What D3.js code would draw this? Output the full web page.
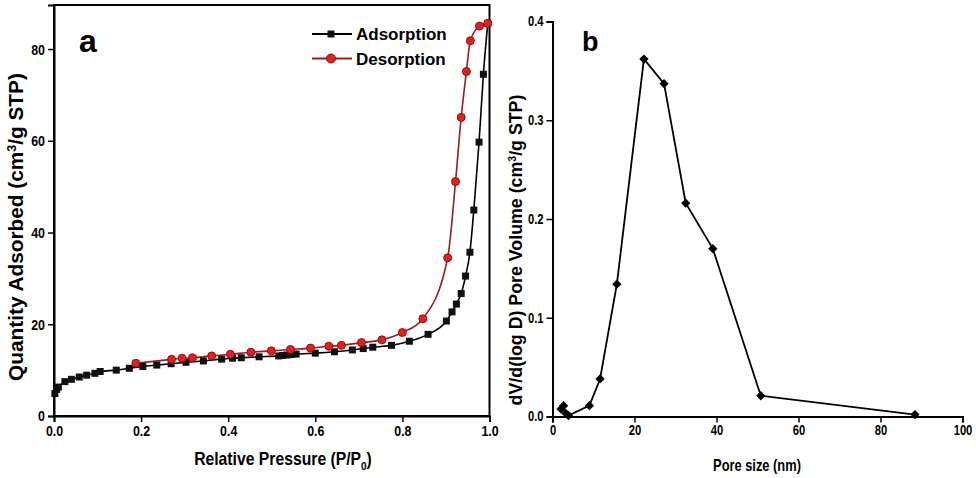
<!DOCTYPE html>
<meta charset="utf-8">
<script src="https://d3js.org/d3.v7.min.js"></script>
<style>
  body { margin: 0; background: #fff; }
  text { font-family: "Liberation Sans", Arial, sans-serif; font-weight: bold; }
</style>
<body>
<div id="chart"></div>
<script>
// panel a : N2 isotherm
var adsP = [0.002, 0.006, 0.010, 0.025, 0.040, 0.058, 0.075, 0.094, 0.106, 0.143, 0.173, 0.204, 0.236, 0.269, 0.303,
            0.343, 0.385, 0.410, 0.430, 0.471, 0.516, 0.525, 0.535, 0.545, 0.556, 0.600, 0.644, 0.685, 0.710, 0.732,
            0.775, 0.816, 0.859, 0.901, 0.914, 0.924, 0.935, 0.945, 0.955, 0.964, 0.976, 0.986, 0.996];
var adsV = [4.9, 5.8, 6.3, 7.5, 8.0, 8.5, 8.9, 9.3, 9.7, 10.0, 10.4, 10.8, 11.1, 11.4, 11.7,
            12.0, 12.4, 12.6, 12.7, 12.9, 13.1, 13.2, 13.3, 13.4, 13.5, 13.7, 14.0, 14.4, 14.7, 15.0,
            15.4, 16.3, 17.8, 20.7, 22.7, 24.4, 26.7, 30.5, 35.7, 44.9, 59.7, 74.5, 85.6];
var desP = [0.188, 0.270, 0.294, 0.318, 0.362, 0.405, 0.452, 0.499, 0.543, 0.589, 0.631, 0.660, 0.706, 0.753,
            0.800, 0.847, 0.904, 0.922, 0.935, 0.947, 0.956, 0.977, 0.996];
var desV = [11.5, 12.35, 12.6, 12.7, 13.1, 13.45, 13.9, 14.2, 14.5, 14.8, 15.2, 15.4, 16.0, 16.6,
            18.2, 21.2, 34.5, 51.1, 65.1, 75.1, 81.8, 85.0, 85.6];
var xTicksA = [0, 0.2, 0.4, 0.6, 0.8, 1.0];
var yTicksA = [0, 20, 40, 60, 80];

// panel b : pore size distribution
var poreSize = [2.1, 2.7, 3.3, 3.9, 9.0, 11.6, 15.7, 22.3, 27.2, 32.5, 39.1, 50.8, 88.4];
var poreVol  = [0.0075, 0.011, 0.003, 0.001, 0.011, 0.038, 0.134, 0.362, 0.337, 0.216, 0.170, 0.021, 0.002];
var xTicksB = [0, 20, 40, 60, 80, 100];
var yTicksB = [0, 0.1, 0.2, 0.3, 0.4];

var svg = d3.select("#chart").append("svg")
    .attr("width", 976).attr("height", 478);

// ---------- panel a ----------
var xa = d3.scaleLinear().domain([0, 1]).range([54, 489.5]);
var ya = d3.scaleLinear().domain([0, 89.6]).range([416, 5]);

var ga = svg.append("g");

ga.append("g")
  .attr("transform", "translate(0,416)")
  .call(d3.axisBottom(xa).tickValues(xTicksA).tickFormat(d3.format(".1f")).tickSizeOuter(0).tickSize(6))
  .call(styleAxis, "15.5px");
ga.append("g")
  .attr("transform", "translate(54,0)")
  .call(d3.axisLeft(ya).tickValues(yTicksA).tickSizeOuter(0).tickSize(6))
  .call(styleAxis, "15.5px");

// frame
ga.append("rect")
  .attr("x", xa(0)).attr("y", ya(89.6))
  .attr("width", xa(1) - xa(0)).attr("height", ya(0) - ya(89.6))
  .attr("fill", "none").attr("stroke", "#000").attr("stroke-width", 2);

var ads = adsP.map(function(p, i) { return {x: p, y: adsV[i]}; });
var des = desP.map(function(p, i) { return {x: p, y: desV[i]}; });

var lineA = d3.line()
  .x(function(d) { return xa(d.x); })
  .y(function(d) { return ya(d.y); })
  .curve(d3.curveMonotoneX);

ga.append("path").datum(ads)
  .attr("fill", "none").attr("stroke", "#000").attr("stroke-width", 1.6)
  .attr("d", lineA);
ga.append("path").datum(des)
  .attr("fill", "none").attr("stroke", "#9b1a24").attr("stroke-width", 1.6)
  .attr("d", lineA);

ga.selectAll(".sq").data(ads).enter().append("rect")
  .attr("x", function(d) { return xa(d.x) - 3.5; })
  .attr("y", function(d) { return ya(d.y) - 3.5; })
  .attr("width", 7).attr("height", 7)
  .attr("fill", "#111");

ga.selectAll(".ci").data(des).enter().append("circle")
  .attr("cx", function(d) { return xa(d.x); })
  .attr("cy", function(d) { return ya(d.y); })
  .attr("r", 4)
  .attr("fill", "#e3201b").attr("stroke", "#8b1018").attr("stroke-width", 1);

// legend
var leg = ga.append("g");
leg.append("line").attr("x1", 312).attr("x2", 352).attr("y1", 34).attr("y2", 34)
  .attr("stroke", "#000").attr("stroke-width", 1.8);
leg.append("rect").attr("x", 327.5).attr("y", 30.5).attr("width", 7).attr("height", 7).attr("fill", "#111");
leg.append("text").attr("x", 356).attr("y", 40).style("font-size", "17px").text("Adsorption");
leg.append("line").attr("x1", 312).attr("x2", 352).attr("y1", 58.5).attr("y2", 58.5)
  .attr("stroke", "#9b1a24").attr("stroke-width", 1.8);
leg.append("circle").attr("cx", 331).attr("cy", 58.5).attr("r", 4.5)
  .attr("fill", "#e3201b").attr("stroke", "#8b1018");
leg.append("text").attr("x", 356).attr("y", 64.5).style("font-size", "17px").text("Desorption");

ga.append("text").attr("x", 79).attr("y", 52).style("font-size", "32px").text("a");

// axis titles (narrow look: squeeze horizontally)
var xt = ga.append("text").attr("transform", "translate(283,465) scale(0.9,1)").attr("text-anchor", "middle")
  .style("font-size", "17.5px");
xt.append("tspan").text("Relative Pressure (P/P");
xt.append("tspan").attr("dy", 5).style("font-size", "11px").text("0");
xt.append("tspan").attr("dy", -5).text(")");

var yt = ga.append("text").attr("transform", "translate(23,227) rotate(-90)").attr("text-anchor", "middle")
  .style("font-size", "20.8px");
yt.append("tspan").text("Quantity Adsorbed (cm");
yt.append("tspan").attr("dy", -7).style("font-size", "12.5px").text("3");
yt.append("tspan").attr("dy", 7).text("/g STP)");

// ---------- panel b ----------
var xb = d3.scaleLinear().domain([0, 100]).range([552.5, 962.5]);
var yb = d3.scaleLinear().domain([0, 0.4]).range([416.5, 21.5]);

var gb = svg.append("g");
gb.append("g")
  .attr("transform", "translate(0,416.5)")
  .call(d3.axisBottom(xb).tickValues(xTicksB).tickSizeOuter(0).tickSize(6))
  .call(styleAxis, "14px");
gb.append("g")
  .attr("transform", "translate(552.5,0)")
  .call(d3.axisLeft(yb).tickValues(yTicksB).tickFormat(d3.format(".1f")).tickSizeOuter(0).tickSize(6))
  .call(styleAxis, "14px");

var pore = poreSize.map(function(s, i) { return {x: s, y: poreVol[i]}; });
gb.append("path").datum(pore)
  .attr("fill", "none").attr("stroke", "#000").attr("stroke-width", 1.8)
  .attr("d", d3.line().x(function(d) { return xb(d.x); }).y(function(d) { return yb(d.y); }));
gb.selectAll(".dm").data(pore).enter().append("path")
  .attr("transform", function(d) { return "translate(" + xb(d.x) + "," + yb(d.y) + ")"; })
  .attr("d", d3.symbol().type(d3.symbolDiamond2).size(55))
  .attr("fill", "#000");

gb.append("text").attr("x", 582).attr("y", 51).style("font-size", "27px").text("b");

gb.append("text").attr("transform", "translate(757,471) scale(0.78,1)").attr("text-anchor", "middle")
  .style("font-size", "16.5px").text("Pore size (nm)");

var yt2 = gb.append("text").attr("transform", "translate(522,250) rotate(-90)").attr("text-anchor", "middle")
  .style("font-size", "17.8px");
yt2.append("tspan").text("dV/d(log D) Pore Volume (cm");
yt2.append("tspan").attr("dy", -6).style("font-size", "10.5px").text("3");
yt2.append("tspan").attr("dy", 6).text("/g STP)");

function styleAxis(g, size) {
  g.select(".domain").attr("stroke", "#000").attr("stroke-width", 2);
  g.selectAll(".tick line").attr("stroke", "#000").attr("stroke-width", 1.5);
  g.selectAll(".tick text").style("font-size", size).attr("fill", "#000")
    .each(function() {
      // condensed tick labels
      var t = d3.select(this);
      t.attr("textLength", this.getComputedTextLength() * 0.8).attr("lengthAdjust", "spacingAndGlyphs");
    });
}
</script>
</body>
